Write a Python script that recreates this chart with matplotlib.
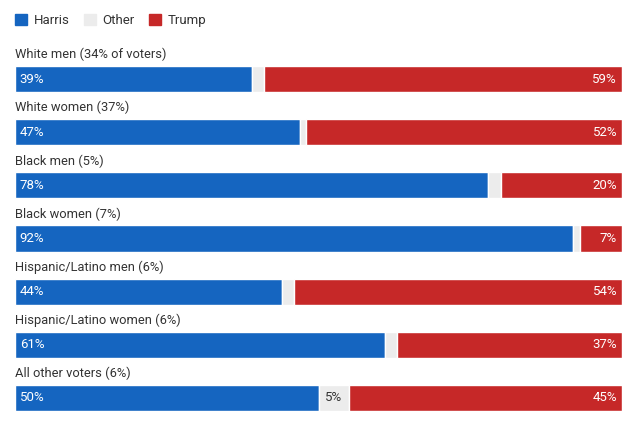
import matplotlib.pyplot as plt
from matplotlib.patches import Patch

groups = [
    "White men (34% of voters)",
    "White women (37%)",
    "Black men (5%)",
    "Black women (7%)",
    "Hispanic/Latino men (6%)",
    "Hispanic/Latino women (6%)",
    "All other voters (6%)",
]
harris = [39, 47, 78, 92, 44, 61, 50]
other = [2, 1, 2, 1, 2, 2, 5]
trump = [59, 52, 20, 7, 54, 37, 45]

BLUE = "#1565c0"
GREY = "#ececec"
RED = "#c62828"
TEXT = "#333333"

plt.rcParams["font.family"] = ["Roboto", "DejaVu Sans"]

fig = plt.figure(figsize=(6.4, 4.23), dpi=100)
ax = fig.add_axes([15 / 640, 12 / 423, 607 / 640, 345 / 423])

n = len(groups)
ys = list(range(n))
h = 0.49
left_other = [a for a in harris]
left_trump = [a + b for a, b in zip(harris, other)]

ax.barh(ys, harris, height=h, color=BLUE, edgecolor="white", linewidth=1)
ax.barh(ys, other, left=left_other, height=h, color=GREY, edgecolor="white", linewidth=1)
ax.barh(ys, trump, left=left_trump, height=h, color=RED, edgecolor="white", linewidth=1)

for y, g, a, o, t in zip(ys, groups, harris, other, trump):
    ax.text(0, y - h / 2 - 0.09, g, ha="left", va="bottom", fontsize=9.3, color=TEXT)
    ax.text(0.8, y, f"{a}%", ha="left", va="center", fontsize=9.5, color="white")
    ax.text(99.2, y, f"{t}%", ha="right", va="center", fontsize=9.5, color="white")
    if o >= 5:
        ax.text(a + o / 2, y, f"{o}%", ha="center", va="center", fontsize=9.5, color=TEXT)

ax.set_xlim(0, 100)
ax.set_ylim(n - 1 + h / 2, -h / 2 - 0.0)
ax.axis("off")

handles = [Patch(color=BLUE, label="Harris"), Patch(color=GREY, label="Other"),
           Patch(color=RED, label="Trump")]
fig.legend(handles=handles, loc="upper left", bbox_to_anchor=(15 / 640, 1 - 14 / 423), ncol=3,
           frameon=False, fontsize=9.5, handlelength=0.9, handleheight=0.9,
           handletextpad=0.5, columnspacing=1.1, labelcolor=TEXT,
           borderpad=0, borderaxespad=0)

fig.savefig("out.png", dpi=100)
